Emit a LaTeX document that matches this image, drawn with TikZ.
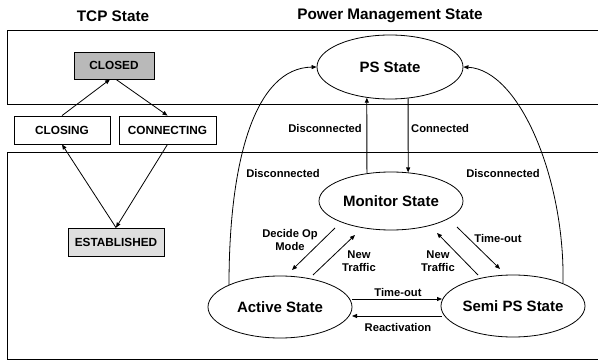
\documentclass[tikz,border=0pt]{standalone}
\usepackage{fontspec}
\setmainfont{Liberation Sans}
\usetikzlibrary{arrows.meta,shapes.geometric,calc}
\begin{document}
\begin{tikzpicture}[x=1pt,y=-1pt,
  font=\bfseries,
  frame/.style={line width=0.8pt},
  title/.style={font=\fontsize{15.3}{17}\selectfont\bfseries},
  tcpbox/.style={draw,line width=0.8pt,rectangle,inner sep=0pt,minimum height=28pt,
    font=\fontsize{11.8}{13}\selectfont\bfseries},
  pmstate/.style={draw,line width=0.8pt,ellipse,fill=white,inner sep=0pt,
    font=\fontsize{15}{17}\selectfont\bfseries},
  lbl/.style={font=\fontsize{11.2}{12.8}\selectfont\bfseries,inner sep=0pt,align=center},
  arr/.style={line width=0.8pt,-{Triangle[length=5pt,width=4pt]}}]
\useasboundingbox (0,0) rectangle (598,361);

% background bands
\draw[frame] (598,30) -- (7,30) -- (7,104) -- (598,104);
\draw[frame] (598,152) -- (7,152) -- (7,359) -- (598,359);

% column headings
\node[title] (tcptitle) at (113,16) {TCP State};
\node[title] (pmtitle) at (390,16) {Power Management State};

% TCP states
\node[tcpbox,fill=gray!55,minimum width=80pt,minimum height=27pt] (closed) at (114,65.5) {CLOSED};
\node[tcpbox,minimum width=96pt] (closing) at (62,130) {CLOSING};
\node[tcpbox,minimum width=97pt] (connecting) at (167.5,130) {CONNECTING};
\node[tcpbox,fill=gray!25,minimum width=96pt] (established) at (116,242) {ESTABLISHED};

\draw[arr] (closing.north) -- ($(closed.south)+(-4,0)$);
\draw[arr] ($(closed.south)+(2,0)$) -- (connecting.north);
\draw[arr] (established.north) -- (closing.south);
\draw[arr] (connecting.south) -- (established.north);

% power management states
\node[pmstate,minimum width=146pt,minimum height=64pt] (ps) at (390,67) {PS State};
\node[pmstate,minimum width=144pt,minimum height=58pt] (mon) at (391,201) {Monitor State};
\node[pmstate,minimum width=144pt,minimum height=62pt] (act) at (280,307) {Active State};
\node[pmstate,minimum width=144pt,minimum height=62pt] (semi) at (513,306) {Semi PS State};

% PS <-> Monitor
\draw[arr] (ps.-60) -- (mon.59);
\draw[arr] (mon.131.3) -- (ps.-127);
\node[lbl,anchor=east] (lbldisc) at (362,128) {Disconnected};
\node[lbl,anchor=west] (lblconn) at (411,128) {Connected};

% back to PS on disconnection
\draw[arr] ($(act.center)+(-51,-22)$) .. controls (229,160) and (255,68) .. (ps.west);
\draw[arr] ($(semi.center)+(50,-23)$) .. controls (565,180) and (520,70) .. (ps.east);
\node[lbl] (lbldiscl) at (283,173) {Disconnected};
\node[lbl] (lbldiscr) at (503,173) {Disconnected};

% Monitor <-> Active
\draw[arr] ($(mon.center)+(-56,27)$) -- ($(act.center)+(12,-37)$);
\draw[arr] ($(act.center)+(33,-32)$) -- ($(mon.center)+(-36,34)$);
\node[lbl] (lbldecide) at (290,240) {Decide Op\\Mode};
\node[lbl] (lblnewl) at (359,261) {New\\Traffic};

% Monitor <-> Semi PS
\draw[arr] ($(semi.center)+(-35,-31)$) -- ($(mon.center)+(46,32)$);
\draw[arr] ($(mon.center)+(66,26)$) -- ($(semi.center)+(-13,-37)$);
\node[lbl] (lblnewr) at (438,261) {New\\Traffic};
\node[lbl] (lbltor) at (498,238) {Time-out};

% Active <-> Semi PS
\draw[arr] ($(act.center)+(72,-8)$) -- ($(semi.center)+(-71,-7)$);
\draw[arr] ($(semi.center)+(-71,10)$) -- ($(act.center)+(72,9)$);
\node[lbl] (lbltoh) at (398,292) {Time-out};
\node[lbl] (lblreact) at (398,327) {Reactivation};
\end{tikzpicture}
\end{document}
